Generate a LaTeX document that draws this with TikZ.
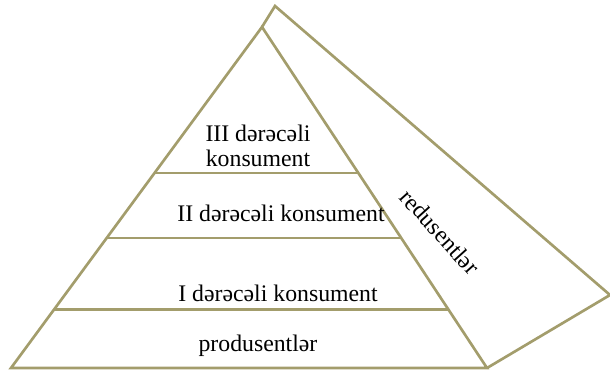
\documentclass[tikz,border=0pt]{standalone}
\usepackage{fontspec}
\setmainfont{Liberation Serif}
\usepackage{xcolor}
\definecolor{edgeOlive}{HTML}{A39D6C}
\usetikzlibrary{calc}
\tikzset{
    face/.style={draw=edgeOlive, line width=1.9pt, line join=miter},
    levelline/.style={draw=edgeOlive, line width=1.9pt},
    leveltext/.style={font=\fontsize{16.9}{17.5}\selectfont, align=center,
                      inner sep=0pt, text=black},
}

\begin{document}
\begin{tikzpicture}[x=0.025cm, y=-0.025cm]
    \useasboundingbox (0,0) rectangle (610,371);
    % corners of the pyramid
    \coordinate (top) at (275,6);
    \coordinate (apex) at (262,27);
    \coordinate (bl) at (11,368);
    \coordinate (br) at (487,368);
    \coordinate (far) at (610,295);
    % level boundaries on the front face
    \coordinate (L3) at ($(apex)!0.428!(bl)$);
    \coordinate (R3) at ($(apex)!0.428!(br)$);
    \coordinate (L2) at ($(apex)!0.619!(bl)$);
    \coordinate (R2) at ($(apex)!0.619!(br)$);
    \coordinate (L1) at ($(apex)!0.828!(bl)$);
    \coordinate (R1) at ($(apex)!0.828!(br)$);

    \draw[face] (bl) -- (apex) -- (br) -- cycle;
    \draw[face] (apex) -- (top) -- (far) -- (br);
    \draw[levelline] (L3) -- (R3);
    \draw[levelline] (L2) -- (R2);
    \draw[levelline] (L1) -- (R1);

    \node[leveltext] (cons3) at (258,146) {III dərəcəli\\konsument};
    \node[leveltext] (cons2) at (281,213) {II dərəcəli konsument};
    \node[leveltext] (cons1) at (278,293) {I dərəcəli konsument};
    \node[leveltext] (prod) at (258,346) {produsentlər};
    \node[leveltext, rotate=-48] (red) at (440,232) {redusentlər};
\end{tikzpicture}
\end{document}
